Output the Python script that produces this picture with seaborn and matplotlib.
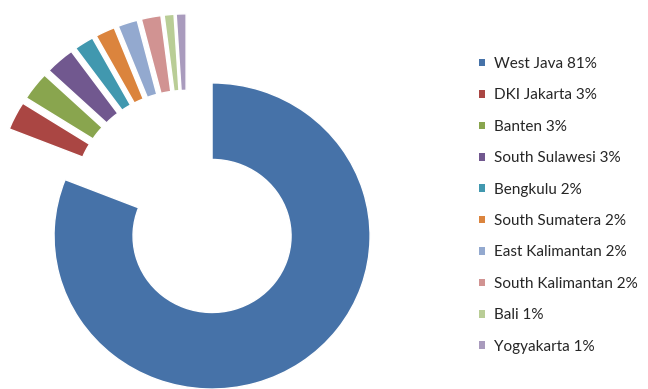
import matplotlib
matplotlib.use("Agg")
import matplotlib.pyplot as plt
import seaborn as sns
import numpy as np
from matplotlib.patches import Patch

regions = ["West Java", "DKI Jakarta", "Banten", "South Sulawesi", "Bengkulu",
           "South Sumatera", "East Kalimantan", "South Kalimantan", "Bali", "Yogyakarta"]
shares = [81, 3, 3, 3, 2, 2, 2, 2, 1, 1]
colors = ["#4672A8", "#AA4643", "#89A54E", "#71588F", "#4198AF",
          "#DB843D", "#93A9CF", "#D19392", "#B9CD96", "#A99BBD"]

sns.set_theme(style="white")
plt.rcParams["font.family"] = ["Lato", "DejaVu Sans"]

fig = plt.figure(figsize=(6.48, 3.89), dpi=100)
ax = fig.add_axes([0, 0, 1, 1])

own_explode = 0.22
group_explode = 0.28
explode = [0] + [own_explode] * (len(shares) - 1)
wedges, _ = ax.pie(shares, colors=colors, startangle=90, counterclock=False,
                   explode=explode, radius=1,
                   wedgeprops=dict(width=0.5, edgecolor="white", linewidth=1.0))

# additional shift of the whole group of small slices along the group's bisector
g_lo = min(w.theta1 for w in wedges[1:])
g_hi = max(w.theta2 for w in wedges[1:])
g_mid = np.deg2rad((g_lo + g_hi) / 2)
for w in wedges[1:]:
    cx, cy = w.center
    w.set_center((cx + group_explode * np.cos(g_mid), cy + group_explode * np.sin(g_mid)))

ax.set_aspect("auto")
ax.set_xlim(-1.342, 2.759)
ax.set_ylim(-1.0, 1.542)
ax.axis("off")

labels = [f"{r} {s}%" for r, s in zip(regions, shares)]
handles = [Patch(facecolor=c, edgecolor="none") for c in colors]
fs = 11
ax.legend(handles, labels, loc="upper left", bbox_to_anchor=(479 / 648, 1 - 57 / 389),
          bbox_transform=fig.transFigure, frameon=False, fontsize=fs,
          handlelength=0.4, handleheight=0.4, handletextpad=0.6,
          labelspacing=1.14, borderpad=0, borderaxespad=0, labelcolor="#262626")

fig.savefig("out.png", dpi=100, facecolor="white")
